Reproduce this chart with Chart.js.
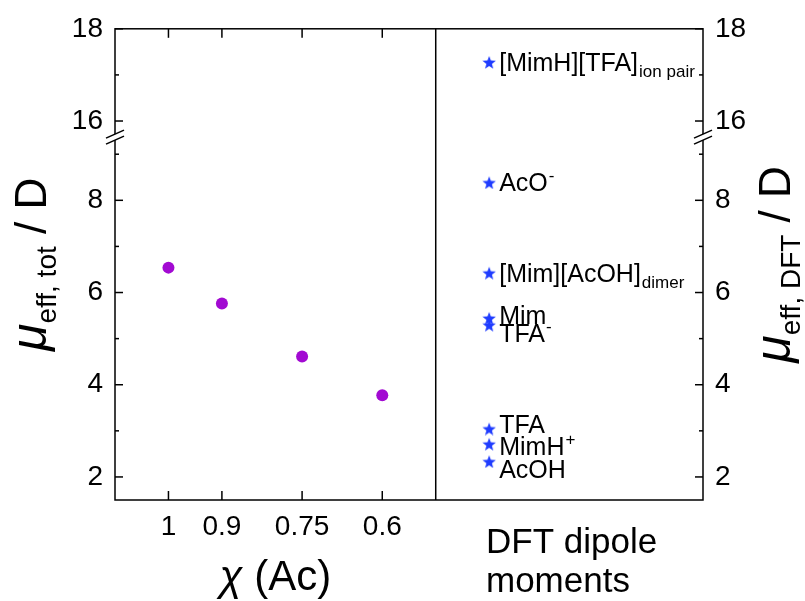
<!DOCTYPE html>
<html>
<head>
<meta charset="utf-8">
<script src="https://cdn.jsdelivr.net/npm/chart.js@4"></script>
<style>
  body { margin: 0; background: #fff; }
  canvas { display: block; }
</style>
</head>
<body>
<canvas id="dipoleChart" width="805" height="601"></canvas>
<script>
// measured effective dipole moment vs. chi(Ac)
const chiValues = [1, 0.9, 0.75, 0.6];
const muTot = [6.54, 5.76, 4.61, 3.77];

// DFT dipole moments, all drawn in the right panel at chi = 0.4
const dftNames = ['[MimH][TFA]_{ion pair}', 'AcO^{-}', '[Mim][AcOH]_{dimer}', 'Mim', 'TFA^{-}', 'TFA', 'MimH^{+}', 'AcOH'];
const dftValues = [17.28, 8.39, 6.43, 5.45, 5.3, 3.05, 2.72, 2.34];
const dftX = 0.4;

// broken y axis: lower and upper segment
const lowTicks = [2, 4, 6, 8];
const highTicks = [16, 18];
const lowRange = [1.5, 9.37];
const highRange = [15.65, 18];
const breakAt = 12;

const FONT = '"Liberation Sans", Arial, sans-serif';
const labelShift = [0, 0, 0, -3, 8, -5, 2, 8];

function makeStar(size, color) {
    const c = document.createElement('canvas');
    c.width = size;
    c.height = size;
    const g = c.getContext('2d');
    const ro = size / 2, ri = ro * 0.42;
    g.beginPath();
    for (let i = 0; i < 10; i++) {
        const r = i % 2 ? ri : ro;
        const a = -Math.PI / 2 + i * Math.PI / 5;
        g.lineTo(size / 2 + r * Math.cos(a), size / 2 + 1 + r * Math.sin(a));
    }
    g.closePath();
    g.fillStyle = color;
    g.fill();
    return c;
}
const star = makeStar(14, '#1f3cff');

function drawRuns(ctx, runs, x, y, align) {
    let total = 0;
    runs.forEach(r => { ctx.font = r.font; total += ctx.measureText(r.text).width; });
    let cx = align === 'center' ? x - total / 2 : x;
    runs.forEach(r => {
        ctx.font = r.font;
        ctx.fillText(r.text, cx, y + (r.dy || 0));
        cx += ctx.measureText(r.text).width;
    });
}

function parseLabel(s) {
    const m = s.match(/^(.*?)(?:([_^])\{(.*)\})?$/);
    return { base: m[1], mode: m[2], small: m[3] };
}

function yAxis(range, ticks, pos, stack) {
    return {
        type: 'linear',
        position: pos,
        stack: stack,
        stackWeight: range[1] - range[0],
        min: range[0],
        max: range[1],
        grid: { display: false, drawTicks: false },
        border: { display: false },
        ticks: { color: '#000', font: { family: FONT, size: 28 }, padding: 12, callback: v => String(v) },
        afterBuildTicks: s => { s.ticks = ticks.map(v => ({ value: v })); },
        afterFit: s => { s.width = pos === 'left' ? 115 : 102; }
    };
}

const decor = {
    id: 'decor',
    afterDatasetsDraw(chart) {
        const { ctx, chartArea: a, scales } = chart;
        const x = scales.x;
        const line = (x1, y1, x2, y2) => { ctx.beginPath(); ctx.moveTo(x1, y1); ctx.lineTo(x2, y2); ctx.stroke(); };
        ctx.save();
        ctx.strokeStyle = '#000';
        ctx.lineWidth = 1.5;
        ctx.strokeRect(a.left, a.top, a.width, a.height);

        const xd = x.getPixelForValue(0.5);
        line(xd, a.top, xd, a.bottom);

        chiValues.forEach(v => {
            const px = x.getPixelForValue(v);
            line(px, a.bottom, px, a.bottom - 9);
            line(px, a.top, px, a.top + 9);
        });

        [[scales.yLow, lowRange], [scales.yHigh, highRange]].forEach(([s, r]) => {
            for (let v = Math.ceil(r[0]); v <= r[1]; v++) {
                const len = v % 2 === 0 ? 8 : 4;
                const py = s.getPixelForValue(v);
                line(a.left, py, a.left + len, py);
                line(a.right, py, a.right - len, py);
            }
        });

        // break marks
        const yb = scales.yLow.top;
        [a.left, a.right].forEach(ex => {
            ctx.fillStyle = '#fff';
            ctx.beginPath();
            ctx.moveTo(ex - 9, yb + 1);
            ctx.lineTo(ex + 9, yb - 7);
            ctx.lineTo(ex + 9, yb - 1);
            ctx.lineTo(ex - 9, yb + 7);
            ctx.closePath();
            ctx.fill();
            line(ex - 9, yb + 1, ex + 9, yb - 7);
            line(ex - 9, yb + 7, ex + 9, yb - 1);
        });

        // star labels
        ctx.fillStyle = '#000';
        ctx.textBaseline = 'alphabetic';
        dftNames.forEach((name, i) => {
            const v = dftValues[i];
            const s = v > breakAt ? scales.yHigh : scales.yLow;
            const px = x.getPixelForValue(dftX) + 10;
            const base = s.getPixelForValue(v) + labelShift[i] + 9;
            const p = parseLabel(name);
            ctx.font = '25px ' + FONT;
            ctx.fillText(p.base, px, base);
            if (p.mode) {
                const w = ctx.measureText(p.base).width;
                ctx.font = '17px ' + FONT;
                ctx.fillText(p.small, px + w + 1, p.mode === '_' ? base + 6 : base - 10);
            }
        });

        // axis titles
        const cy = (a.top + a.bottom) / 2;
        const big = '44px ' + FONT, mu = 'italic 50px ' + FONT, sub = '28px ' + FONT;
        ctx.save();
        ctx.translate(46, cy);
        ctx.rotate(-Math.PI / 2);
        drawRuns(ctx, [{ text: 'μ', font: mu }, { text: 'eff, tot', font: sub, dy: 10 }, { text: ' / D', font: big }], 0, 0, 'center');
        ctx.restore();
        ctx.save();
        ctx.translate(790, cy);
        ctx.rotate(-Math.PI / 2);
        drawRuns(ctx, [{ text: 'μ', font: mu }, { text: 'eff, DFT', font: sub, dy: 10 }, { text: ' / D', font: big }], 0, 0, 'center');
        ctx.restore();

        drawRuns(ctx, [{ text: 'χ', font: 'italic 42px ' + FONT }, { text: ' (Ac)', font: '42px ' + FONT }], (a.left + xd) / 2, 590, 'center');
        ctx.font = '35px ' + FONT;
        ctx.fillText('DFT dipole', 486, 553);
        ctx.fillText('moments', 486, 592);
        ctx.restore();
    }
};

const lowIdx = dftValues.map((v, i) => i).filter(i => dftValues[i] <= breakAt);
const highIdx = dftValues.map((v, i) => i).filter(i => dftValues[i] > breakAt);

new Chart(document.getElementById('dipoleChart'), {
    type: 'scatter',
    data: {
        datasets: [
            {
                data: chiValues.map((c, i) => ({ x: c, y: muTot[i] })),
                yAxisID: 'yLow',
                pointRadius: 6,
                pointBackgroundColor: '#a20ad2',
                pointBorderWidth: 0
            },
            {
                data: lowIdx.map(i => ({ x: dftX, y: dftValues[i] })),
                yAxisID: 'yLow',
                pointStyle: star
            },
            {
                data: highIdx.map(i => ({ x: dftX, y: dftValues[i] })),
                yAxisID: 'yHigh',
                pointStyle: star
            }
        ]
    },
    options: {
        responsive: false,
        animation: false,
        layout: { padding: { top: 28, left: 0, right: 0, bottom: 0 } },
        plugins: { legend: { display: false }, tooltip: { enabled: false } },
        scales: {
            x: {
                type: 'linear',
                reverse: true,
                min: 0,
                max: 1.1,
                grid: { display: false, drawTicks: false },
                border: { display: false },
                ticks: { color: '#000', font: { family: FONT, size: 28 }, padding: 10, callback: v => String(v) },
                afterBuildTicks: s => { s.ticks = chiValues.map(v => ({ value: v })); },
                afterFit: s => { s.height = 101; }
            },
            yLow: yAxis(lowRange, lowTicks, 'left', 'L'),
            yHigh: yAxis(highRange, highTicks, 'left', 'L'),
            yHighR: yAxis(highRange, highTicks, 'right', 'R'),
            yLowR: yAxis(lowRange, lowTicks, 'right', 'R')
        }
    },
    plugins: [decor]
});
</script>
</body>
</html>
